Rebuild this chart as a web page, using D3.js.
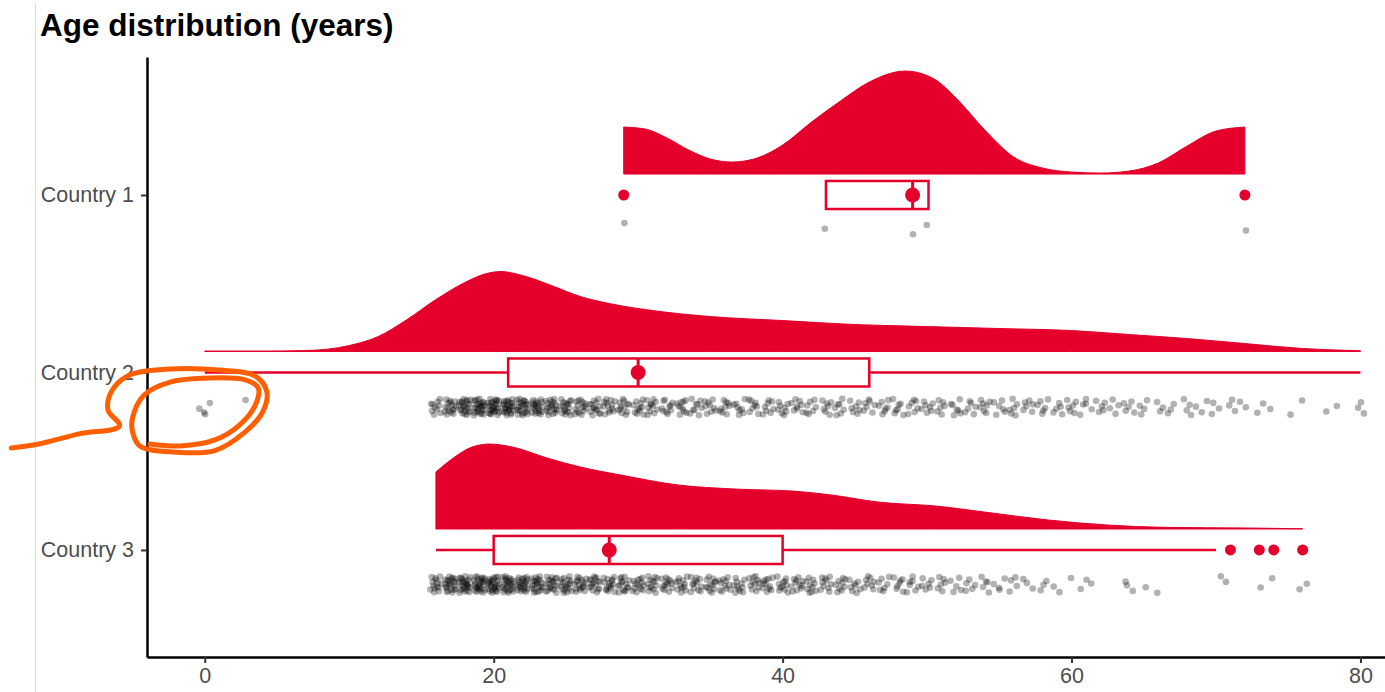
<!DOCTYPE html>
<html>
<head>
<meta charset="utf-8">
<script src="https://cdn.jsdelivr.net/npm/d3@7"></script>
<style>
  body { margin: 0; background: #fff; }
  svg { display: block; font-family: "Liberation Sans", Arial, Helvetica, sans-serif; }
  .axis .tick text { fill: #4d4d4d; font-size: 21.5px; }
  .axis .tick line { stroke: #333; stroke-width: 2; }
  .axis .domain { stroke: #000; stroke-width: 2.5; }
  .title { font-size: 31.5px; font-weight: bold; fill: #000; }
</style>
</head>
<body>
<div id="vis"></div>
<script>
var countries = ['Country 1', 'Country 2', 'Country 3'];
var xTicks = [0, 20, 40, 60, 80];

// ages of country 1 (only five people)
var ages1 = [29, 43, 49, 50, 72];

// head counts per year of age
var counts2Start = 0;
var counts2 = [4, 0, 0, 1, 0, 0, 0, 0, 0, 0, 0, 0, 0, 0, 0, 0,
    10, 16, 22, 25, 26, 25, 23, 21, 19, 17, 15, 14, 13, 12, 11,
    11, 10, 10, 9, 9, 9, 8, 8, 8, 8,
    8, 7, 7, 7, 7, 7, 7, 7, 7, 7,
    6, 7, 6, 7, 6, 6, 6, 6, 5, 6,
    5, 5, 4, 5, 4, 3, 3, 4, 3, 3,
    3, 2, 2, 1, 1, 1, 0, 2, 0, 3];
var counts3Start = 16;
var counts3 = [14, 22, 25, 26, 26, 25, 23, 21, 19, 18, 17, 16, 15, 15, 14,
    13, 13, 12, 12, 12, 11, 11, 11, 11, 11,
    11, 10, 10, 9, 8, 8, 7, 7, 7, 6,
    6, 5, 5, 5, 4, 4, 3, 3, 2, 1,
    3, 0, 0, 3, 1, 1, 0, 0, 0, 1,
    1, 0, 1, 1, 0, 2];

// density curves (age, relative height)
var dens1Age = [29, 30.5, 32, 33.5, 35, 36.5, 38, 40, 42, 44, 46, 48.5, 50.5, 52, 54, 56, 58, 60, 62, 64, 66, 68, 70, 72];
var dens1Val = [47, 45, 36, 24, 15, 12, 15, 29, 52, 73, 92, 103, 95, 76, 44, 17, 6, 2, 1, 3, 11, 28, 43, 47];
var dens2Age = [0, 4, 7, 10, 12, 14, 16, 18, 19.5, 20.5, 22, 24, 26, 28, 31, 35, 40, 45, 50, 55, 60, 64, 68, 72, 76, 80];
var dens2Val = [0.5, 0.5, 1, 6, 15, 32, 52, 69, 78, 80, 76, 66, 55, 48, 41, 35, 31, 27, 25, 23, 21, 17, 13, 8, 3, 0.8];
var dens3Age = [16, 17.3, 18.5, 19.7, 21.3, 23.7, 26, 28.8, 32.8, 36.7, 40.7, 43.4, 46.6, 50.6, 54.5, 58.4, 62.5, 66.4, 72.3, 76];
var dens3Val = [57, 72, 82, 85, 82, 71, 62, 54, 44, 40, 38, 34, 27, 23, 16, 9, 4, 1.7, 1, 0.3];

// box summaries
var boxQ1 = [43, 21, 20];
var boxMedian = [49, 30, 28];
var boxQ3 = [50.1, 46, 40];
var whiskerLow = [43, 0, 16];
var whiskerHigh = [50.1, 80, 70];
var outliers1 = [29, 72];
var outliers2 = [];
var outliers3 = [71, 73, 74, 76];

// hand drawn annotation, in data space (age, row)
var noteAge = [-13.4, -11.5, -8.7, -5.9, -6.7, -6.4, -5.2, -2.4, 1.0, 3.5, 4.3, 4.0, 2.8, 0.7, -2.1, -4.5, -5.0,
    -5.0, -4.2, -2.4, 0.35, 2.8, 3.7, 3.5, 2.4, 0.7, -1.7, -3.8];
var noteRow = [2.425, 2.403, 2.346, 2.301, 2.211, 2.099, 2.014, 1.980, 1.986, 2.020, 2.110, 2.223, 2.335, 2.440, 2.448, 2.414, 2.335,
    2.256, 2.127, 2.054, 2.031, 2.042, 2.087, 2.183, 2.296, 2.380, 2.414, 2.403];

var red = '#e4002b';
var width = 1385;
var height = 692;

var densBase = -0.118;   // rows above the category line
var boxHalf = 0.079;
var pointCenter = 0.195;
var pointSpread = 0.047;

var svg = d3.select('#vis')
    .append('svg')
    .attr('width', width)
    .attr('height', height);

// thin grey edge on the left
svg.append('line')
    .attr('x1', 35.5).attr('x2', 35.5)
    .attr('y1', 3).attr('y2', height)
    .attr('stroke', '#dcdcdc')
    .attr('stroke-width', 1);

svg.append('text')
    .attr('class', 'title')
    .attr('x', 40)
    .attr('y', 36)
    .text('Age distribution (years)');

var xScale = d3.scaleLinear().domain([-4, 81.7]).range([147, 1385]);
var yScale = d3.scaleLinear().domain([0.2225, 3.603]).range([57, 657]);
var hScale = d3.scaleLinear().domain([0, 100]).range([0, 0.5634]);

var g = svg.append('g');

var densAges = [dens1Age, dens2Age, dens3Age];
var densVals = [dens1Val, dens2Val, dens3Val];

densAges.forEach(function(ages, i) {
    var row = i + 1;
    var pts = ages.map(function(a, j) { return { age: a, h: densVals[i][j] }; });
    var area = d3.area()
        .x(function(d) { return xScale(d.age); })
        .y0(yScale(row + densBase))
        .y1(function(d) { return yScale(row + densBase - hScale(d.h)); })
        .curve(d3.curveMonotoneX);
    g.append('path')
        .datum(pts)
        .attr('d', area)
        .attr('fill', red)
        .attr('stroke', red)
        .attr('stroke-width', 1);
});

// boxplots
countries.forEach(function(c, i) {
    var row = i + 1;
    var yc = yScale(row);
    var yt = yScale(row - boxHalf);
    var yb = yScale(row + boxHalf);
    g.append('line')
        .attr('x1', xScale(whiskerLow[i])).attr('x2', xScale(boxQ1[i]))
        .attr('y1', yc).attr('y2', yc)
        .attr('stroke', red).attr('stroke-width', 2.5);
    g.append('line')
        .attr('x1', xScale(boxQ3[i])).attr('x2', xScale(whiskerHigh[i]))
        .attr('y1', yc).attr('y2', yc)
        .attr('stroke', red).attr('stroke-width', 2.5);
    g.append('rect')
        .attr('x', xScale(boxQ1[i]))
        .attr('y', yt)
        .attr('width', xScale(boxQ3[i]) - xScale(boxQ1[i]))
        .attr('height', yb - yt)
        .attr('fill', '#fff')
        .attr('stroke', red)
        .attr('stroke-width', 2.5);
    g.append('line')
        .attr('x1', xScale(boxMedian[i])).attr('x2', xScale(boxMedian[i]))
        .attr('y1', yt).attr('y2', yb)
        .attr('stroke', red).attr('stroke-width', 3);
    g.append('circle')
        .attr('cx', xScale(boxMedian[i]))
        .attr('cy', yc)
        .attr('r', 7.5)
        .attr('fill', red);
});

var outliers = [outliers1, outliers2, outliers3];
outliers.forEach(function(list, i) {
    g.selectAll('.out' + i)
        .data(list)
        .enter().append('circle')
        .attr('class', 'out' + i)
        .attr('cx', function(d) { return xScale(d); })
        .attr('cy', yScale(i + 1))
        .attr('r', 5.5)
        .attr('fill', red);
});

// raw points, jittered with a halton sequence so the spread is even but not a lattice
var expand = function(start, counts) {
    var out = [];
    counts.forEach(function(n, j) {
        for (var k = 0; k < n; k++) out.push(start + j);
    });
    return out;
};

var halton = function(n, base) {
    var f = 1, r = 0;
    while (n > 0) {
        f = f / base;
        r = r + f * (n % base);
        n = Math.floor(n / base);
    }
    return r;
};

var allAges = [ages1, expand(counts2Start, counts2), expand(counts3Start, counts3)];
var points = [];
allAges.forEach(function(list, i) {
    list.forEach(function(a, k) {
        var n = k + 3 + i * 11;
        var jx = halton(n, 2) - 0.5;
        var jy = halton(n, 3) - 0.5;
        points.push({
            age: a + (i === 0 ? jx * 0.2 : jx * 0.8),
            row: i + 1 + pointCenter + jy * 2 * pointSpread
        });
    });
});

g.selectAll('.pt')
    .data(points)
    .enter().append('circle')
    .attr('class', 'pt')
    .attr('cx', function(d) { return xScale(d.age); })
    .attr('cy', function(d) { return yScale(d.row); })
    .attr('r', 3.3)
    .attr('fill', '#000')
    .attr('fill-opacity', 0.3);

// axes
var xAxis = d3.axisBottom(xScale)
    .tickValues(xTicks)
    .tickSize(6)
    .tickSizeOuter(0)
    .tickPadding(5);
var yAxis = d3.axisLeft(yScale)
    .tickValues([1, 2, 3])
    .tickFormat(function(d) { return countries[d - 1]; })
    .tickSize(6)
    .tickSizeOuter(0)
    .tickPadding(7);

svg.append('g')
    .attr('class', 'axis')
    .attr('transform', 'translate(0,' + 657 + ')')
    .call(xAxis);
svg.append('g')
    .attr('class', 'axis')
    .attr('transform', 'translate(' + 147 + ',0)')
    .call(yAxis);

// orange scribble
var note = noteAge.map(function(a, j) { return [xScale(a), yScale(noteRow[j])]; });
svg.append('path')
    .attr('d', d3.line().curve(d3.curveCatmullRom)(note))
    .attr('fill', 'none')
    .attr('stroke', '#ff5f00')
    .attr('stroke-width', 5)
    .attr('stroke-linecap', 'round')
    .attr('stroke-linejoin', 'round');
</script>
</body>
</html>
